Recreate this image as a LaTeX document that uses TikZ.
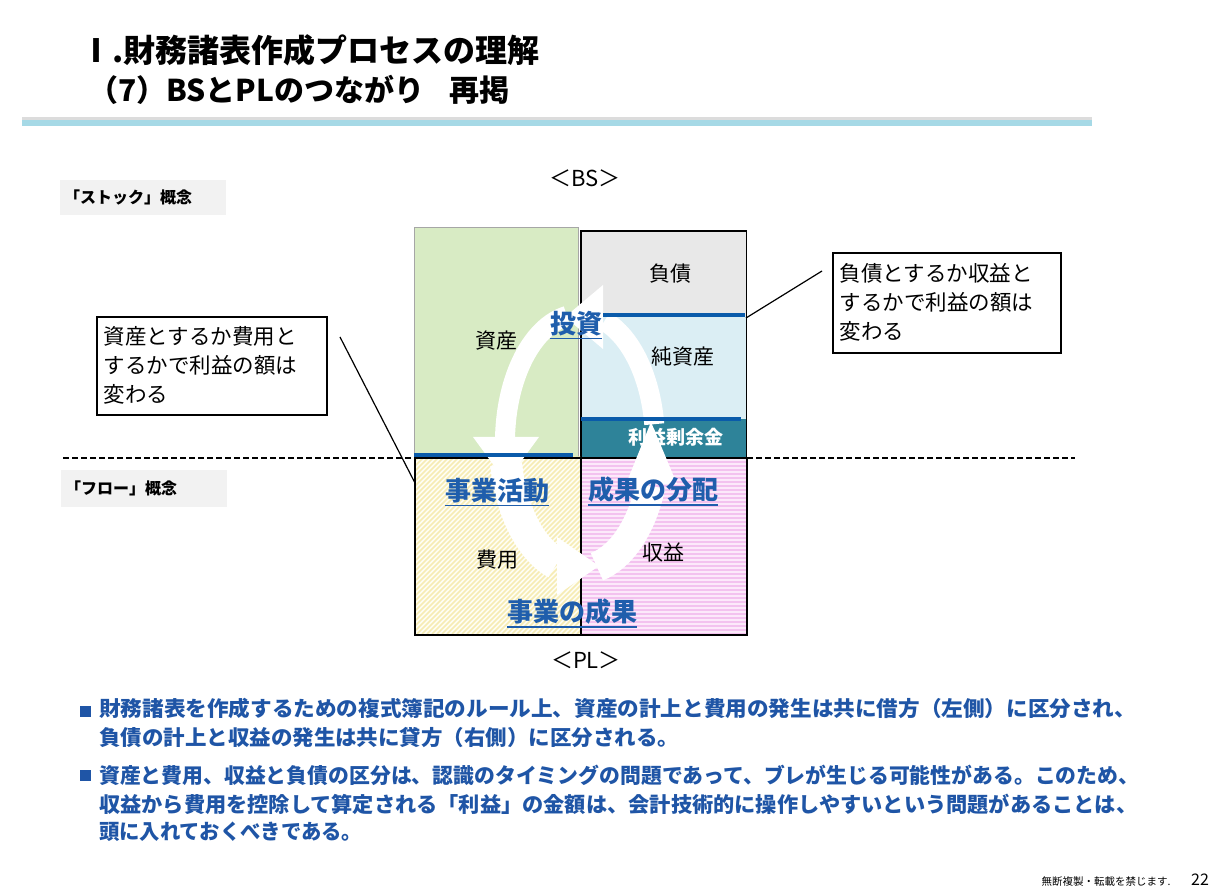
\documentclass[tikz,border=0pt]{standalone}
\usepackage{fontspec}
\setmainfont{Noto Sans CJK JP}
\usetikzlibrary{arrows.meta}
\definecolor{hdrblue}{HTML}{A6D9E6}
\definecolor{hdrgray}{HTML}{DCDCDC}
\definecolor{lblgray}{HTML}{F2F2F2}
\definecolor{asgreen}{HTML}{D8EBC4}
\definecolor{liagray}{HTML}{E8E8E8}
\definecolor{eqblue}{HTML}{DBEEF4}
\definecolor{reteal}{HTML}{2E8399}
\definecolor{lineblue}{HTML}{0A5BAA}
\definecolor{txtblue}{HTML}{1F5EAC}
\definecolor{bulblue}{HTML}{1F55A6}
\definecolor{pinkbase}{HTML}{FCE9FA}
\definecolor{pinkline}{HTML}{F3C2EF}
\definecolor{yelbase}{HTML}{FFFEF4}
\definecolor{yelline}{HTML}{F6ECB4}
\newcommand{\fsz}[1]{\fontsize{#1}{#1}\selectfont}
\newcommand{\fitw}[2]{\resizebox{#1}{\height}{#2}}
\tikzset{
  boxlbl/.style={font=\fsz{21}, inner sep=0pt},
  bluelbl/.style={font=\fsz{26}\bfseries, text=txtblue, inner sep=0pt},
  ulin/.style={draw=txtblue, line width=1.5pt},
  callout/.style={draw, line width=1.6pt, align=left, font=\fontsize{21.5}{29}\selectfont, inner xsep=7pt, anchor=north west, text width=216pt},
  conceptbox/.style={fill=lblgray, minimum width=166pt, minimum height=35pt, inner sep=0pt, anchor=north west},
  concepttxt/.style={font=\fsz{16}\bfseries, anchor=west, inner sep=0pt},
  cycband/.style={draw=white},
  cychead/.style={fill=white},
  blueline/.style={draw=lineblue, line width=4pt},
  bultxt/.style={font=\fsz{21}\bfseries, text=bulblue, anchor=west, inner sep=0pt},
  bulsq/.style={fill=bulblue, minimum size=11pt, inner sep=0pt},
  plbox/.style={draw, line width=1.6pt, anchor=north west, minimum width=166pt, minimum height=177pt, inner sep=0pt},
}
\begin{document}
\begin{tikzpicture}[x=1pt,y=1pt]
\useasboundingbox (0,0) rectangle (1227,-890);
\fill[white] (0,0) rectangle (1227,-890);
% title
\node[anchor=west, font=\fsz{32}\bfseries, inner sep=0pt] (t1) at (80,-50) {Ⅰ.財務諸表作成プロセスの理解};
\node[anchor=west, font=\fsz{30}\bfseries, inner sep=0pt] (t2) at (88,-90) {（7）BSとPLのつながり\hspace{0.85em}再掲};
\fill[hdrgray] (22,-117) rectangle (1092,-120);
\fill[hdrblue] (22,-120) rectangle (1092,-126);
% BS / PL headings
\node[font=\fsz{22}, inner sep=0pt] (bs) at (585,-178) {＜BS＞};
\node[font=\fsz{22}, inner sep=0pt] (pl) at (586,-660) {＜PL＞};
% concept labels
\node[conceptbox] (stk) at (60,-180) {};
\node[concepttxt] (stkt) at ([xshift=4pt]stk.west) {「ストック」概念};
\node[conceptbox, minimum height=37pt] (flw) at (61,-470) {};
\node[concepttxt] (flwt) at ([xshift=4pt]flw.west) {「フロー」概念};
% dashed separator
\draw[line width=1.6pt, dash pattern=on 6pt off 3pt] (63,-458) -- (1075,-458);
% BS boxes
\node[fill=asgreen, draw=gray!70, line width=1pt, anchor=north west, minimum width=164pt, minimum height=230pt, inner sep=0pt] (asset) at (414,-227) {};
\node[fill=liagray, anchor=north west, minimum width=165pt, minimum height=85pt, inner sep=0pt] (liab) at (581,-231) {};
\node[fill=eqblue, anchor=north west, minimum width=165pt, minimum height=103pt, inner sep=0pt] (equity) at (581,-316) {};
\node[fill=reteal, anchor=north west, minimum width=165pt, minimum height=38pt, inner sep=0pt] (retain) at (581,-419) {};
\draw[line width=1.6pt] (liab.north west) rectangle (retain.south east);
% PL stripes
\begin{scope}
\clip (414,-457) rectangle (580,-634);
\fill[yelbase] (414,-457) rectangle (580,-634);
\foreach \i in {232,237,...,585} \draw[yelline, line width=1.6pt] (\i,-634) -- ++(180,180);
\end{scope}
\begin{scope}
\clip (580,-457) rectangle (746,-634);
\fill[pinkbase] (580,-457) rectangle (746,-634);
\foreach \j in {458,462,...,634} \draw[pinkline, line width=1.8pt] (580,-\j) -- (746,-\j);
\end{scope}
\node[plbox] (cost) at (414,-457) {};
\node[plbox] (rev) at (580,-457) {};
% box labels
\node[boxlbl] (assett) at (496,-341) {資産};
\node[boxlbl] (liabt) at (670,-274) {負債};
\node[boxlbl] (equityt) at (683,-357) {純資産};
\node[font=\fsz{19}\bfseries, text=white, inner sep=0pt] (retaint) at (676,-437) {利益剰余金};
\node[boxlbl] (costt) at (497,-560) {費用};
\node[boxlbl] (revt) at (663,-552) {収益};
% white cycle arrows (bands + heads)
\draw[cycband, line width=20pt] (580,-442) ++(8:75 and 128) arc[start angle=8, end angle=71, x radius=75, y radius=128];
\fill[cychead] (603,-285) -- (603,-349) -- (565,-317) -- cycle;
\draw[cycband, line width=20pt] (580,-442) ++(100:75 and 128) arc[start angle=100, end angle=178, x radius=75, y radius=128];
\fill[cychead] (473,-437) -- (539,-437) -- (506,-482) -- cycle;
\draw[cycband, line width=32pt] (580,-442) ++(190:75 and 128) arc[start angle=190, end angle=252, x radius=75, y radius=128];
\fill[cychead] (557,-537) -- (557,-595) -- (599,-566) -- cycle;
\draw[cycband, line width=30pt] (580,-442) ++(283:75 and 128) arc[start angle=283, end angle=340, x radius=75, y radius=128];
\fill[cychead] (626,-484) -- (677,-484) -- (651,-422) -- cycle;
% blue boundary lines
\draw[blueline] (603,-315) -- (745,-315);
\draw[blueline] (581,-419) -- (741,-419);
\draw[blueline] (414,-455) -- (573,-455);
% blue labels
\node[bluelbl] (inv) at (576,-324) {投資};
\draw[ulin] ([yshift=-2pt]inv.south west) -- ([yshift=-2pt]inv.south east);
\node[bluelbl] (act) at (497,-491) {事業活動};
\draw[ulin] ([yshift=-2pt]act.south west) -- ([yshift=-2pt]act.south east);
\node[bluelbl] (dist) at (653,-490) {成果の分配};
\draw[ulin] ([yshift=-2pt]dist.south west) -- ([yshift=-2pt]dist.south east);
\node[bluelbl] (res) at (572,-612) {事業の成果};
\draw[ulin] ([yshift=-2pt]res.south west) -- ([yshift=-2pt]res.south east);
% callouts
\node[callout, minimum height=98pt] (cl) at (96,-316) {資産とするか費用と\\するかで利益の額は\\変わる};
\coordinate (clA) at (340,-337);
\coordinate (clB) at (415,-483);
\draw[line width=1.2pt] (clA) -- (clB);
\node[callout, minimum height=100pt, text width=214pt] (cr) at (832,-252) {負債とするか収益と\\するかで利益の額は\\変わる};
\coordinate (crA) at (746,-318);
\coordinate (crB) at (822,-271);
\draw[line width=1.2pt] (crA) -- (crB);
% bullets
\node[bulsq] (b1) at (85.5,-711.5) {};
\node[bultxt] (l1) at (99,-708) {\fitw{1037pt}{財務諸表を作成するための複式簿記のルール上、資産の計上と費用の発生は共に借方（左側）に区分され、}};
\node[bultxt] (l2) at (99,-738) {\fitw{580pt}{負債の計上と収益の発生は共に貸方（右側）に区分される。}};
\node[bulsq] (b2) at (85.5,-775.5) {};
\node[bultxt] (l3) at (99,-775) {\fitw{1040pt}{資産と費用、収益と負債の区分は、認識のタイミングの問題であって、ブレが生じる可能性がある。このため、}};
\node[bultxt] (l4) at (99,-804) {\fitw{1038pt}{収益から費用を控除して算定される「利益」の金額は、会計技術的に操作しやすいという問題があることは、}};
\node[bultxt] (l5) at (99,-832) {\fitw{263pt}{頭に入れておくべきである。}};
% footer
\node[font=\fsz{10.5}, inner sep=0pt] (ft) at (1106,-882) {無断複製・転載を禁じます.};
\node[font=\fsz{16}, inner sep=0pt] (pg) at (1200,-880) {22};
\end{tikzpicture}
\end{document}
